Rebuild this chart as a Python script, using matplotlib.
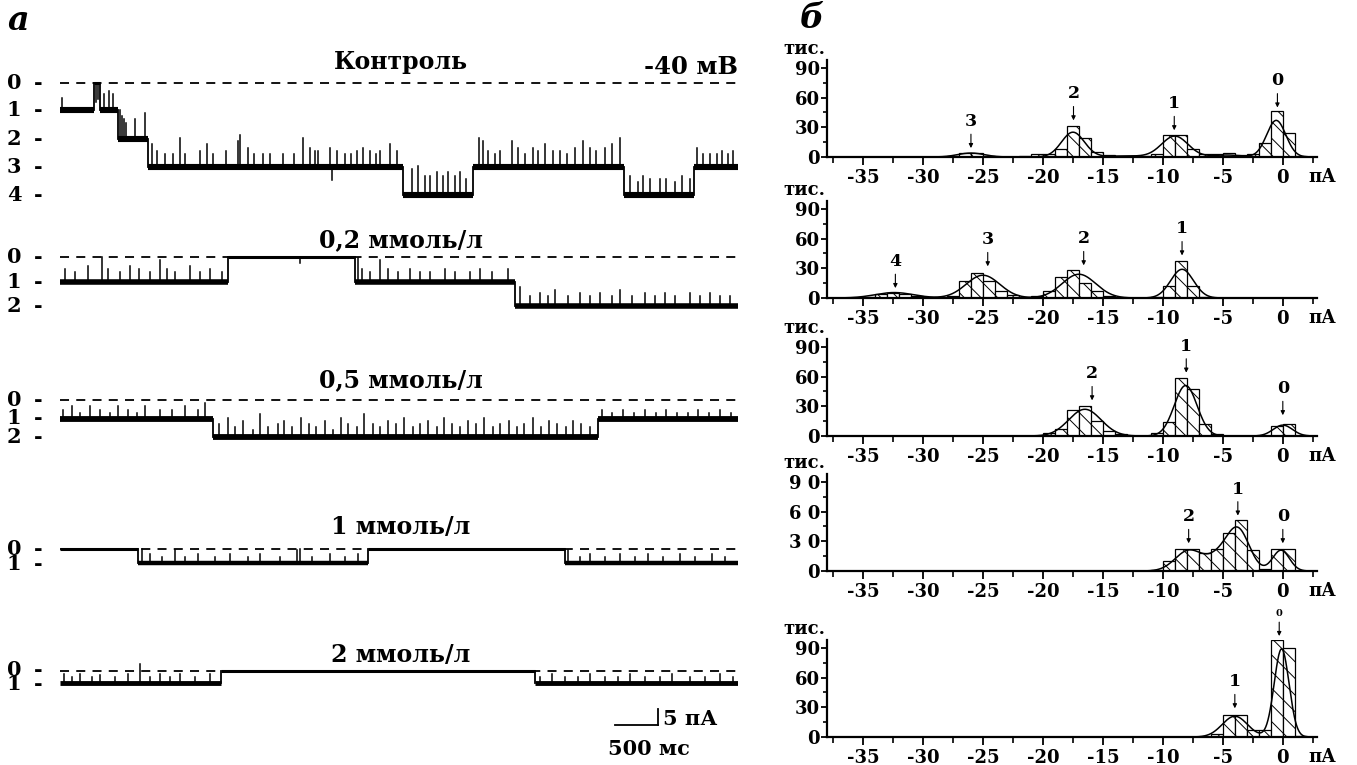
# -*- coding: utf-8 -*-
"""Одиночные каналы: записи тока (а) и амплитудные гистограммы (б)."""

import matplotlib
matplotlib.use("Agg")
import matplotlib.pyplot as plt
import numpy as np
from matplotlib import transforms
from matplotlib.ticker import MultipleLocator

W, H = 1357, 765
plt.rcParams["font.family"] = ["DejaVu Serif"]
plt.rcParams["font.weight"] = "bold"
plt.rcParams["axes.unicode_minus"] = False
plt.rcParams["hatch.linewidth"] = 0.7

# ---------- а: записи тока (время, мс; ток, пА) ----------
T_END = 7885

ctrl_levels = [0, -8.6, -17.4, -26.2, -35.0]
ctrl_segments = [(0, 390, 1), (390, 470, 0), (470, 680, 1), (680, 1020, 2),
                 (1020, 3990, 3), (3990, 4800, 4), (4800, 6560, 3),
                 (6560, 7370, 4), (7370, T_END, 3)]
ctrl_spike_t = [23, 420, 445, 512, 570, 616, 698, 720, 744, 770, 872, 989,
                1070, 1128, 1221, 1314, 1396, 1454, 1628, 1710, 1779, 1931,
                2070, 2093, 2186, 2256, 2361, 2442, 2593, 2721, 2826, 2908,
                2966, 3000, 3140, 3163, 3222, 3315, 3384, 3454, 3524, 3605,
                3675, 3722, 3838, 3919,
                4094, 4164, 4245, 4303, 4385, 4454, 4512, 4594, 4652, 4722,
                4873, 4919, 4978, 5059, 5117, 5257, 5327, 5408, 5501, 5559,
                5640, 5733, 5815, 5896, 5989, 6082, 6164, 6234, 6338, 6420,
                6513, 6629, 6722, 6780, 6862, 6978, 7048, 7152, 7234, 7327,
                7408, 7478, 7560, 7641, 7699, 7769, 7827]
ctrl_spike_h = [4, -6, -5, 5, 6, 5, 9, 7, 6, 5, 6, 8,
                7, 5, 4, 4, 9, 4, 5, 7, 4, 5,
                8, 10, 6, 4, 4, 4, 4, 4, 9, 6,
                5, 5, 6, -4, 5, 4, 4, 5, 6, 5,
                4, 5, 7, 5,
                8, 9, 6, 6, 7, 6, 7, 6, 7, 5,
                9, 8, 5, 4, 5, 8, 6, 4, 6, 5,
                7, 5, 5, 4, 6, 8, 6, 5, 6, 7,
                9, 6, 4, 6, 5, 5, 5, 4, 6, 5,
                6, 4, 4, 4, 5, 4, 5]

c02_levels = [0, -7.8, -15.3]
c02_segments = [(0, 1954, 1), (1954, 3431, 0), (3431, 5292, 1), (5292, T_END, 2)]
c02_spike_t = [58, 174, 326, 488, 558, 698, 814, 919, 1047, 1163, 1244, 1337,
               1512, 1628, 1745, 1884, 2791,
               3466, 3512, 3605, 3722, 3815, 3931, 4071, 4187, 4303, 4478,
               4594, 4768, 4885, 5024, 5210,
               5350, 5466, 5582, 5675, 5757, 5908, 6048, 6164, 6280, 6420,
               6513, 6652, 6804, 6920, 7036, 7152, 7327, 7443, 7560, 7676, 7792]
c02_spike_h = [4, 3, 5, 7.8, 4, 3, 5, 4, 3, 7, 4, 3,
               5, 3, 4, 3, -2,
               7.5, 4, 3, 7, 4, 3, 4, 3, 3, 4,
               3, 3, 4, 3, 4,
               6, 3, 4, 3, 5, 3, 4, 3, 4, 3,
               5, 3, 4, 3, 4, 3, 4, 3, 4, 3, 3]

c05_levels = [0, -6.0, -11.5]
c05_segments = [(0, 1780, 1), (1780, 6257, 2), (6257, T_END, 1)]
c05_spike_t = [35, 140, 233, 349, 465, 582, 675, 791, 896, 989, 1163, 1303,
               1454, 1605, 1687,
               1850, 1950, 2040, 2130, 2250, 2330, 2420, 2530, 2610, 2700,
               2800, 2900, 2980, 3080, 3170, 3270, 3350, 3450, 3540, 3640,
               3720, 3820, 3910, 4000, 4100, 4190, 4280, 4380, 4470, 4560,
               4650, 4750, 4840, 4930, 5030, 5120, 5220, 5310, 5400, 5500,
               5590, 5690, 5780, 5880, 5970, 6060, 6160,
               6300, 6420, 6550, 6680, 6800, 6930, 7050, 7180, 7300, 7420,
               7550, 7680, 7800]
c05_spike_h = [3, 4, 2, 4, 3, 2, 4, 3, 2, 4, 3, 3,
               4, 3, 5,
               4, 6, 3, 5, 2, 7, 3, 4, 5, 3,
               6, 4, 3, 5, 2, 6, 4, 3, 7, 4,
               3, 5, 4, 6, 3, 4, 5, 3, 6, 4,
               3, 5, 4, 6, 3, 4, 5, 3, 4, 6,
               3, 5, 4, 3, 5, 4, 3,
               3, 2, 3, 2, 3, 2, 3, 2, 2, 3,
               2, 3, 2]

c1_levels = [0, -4.4]
c1_segments = [(0, 907, 0), (907, 3582, 1), (3582, 5873, 0), (5873, T_END, 1)]
c1_spike_t = [954, 1047, 1186, 1337, 1454, 1605, 1803, 1977, 2186, 2326, 2559,
              2756, 2791, 2931, 3140, 3315, 3466,
              5908, 6048, 6164, 6338, 6513, 6687, 6838, 7013, 7211, 7385,
              7583, 7734]
c1_spike_h = [4.4, 3, 2, 4, 2, 3, 2, 3, 2, 3, 2,
              4, 4.4, 2, 3, 2, 3,
              4, 2, 3, 2, 3, 2, 3, 2, 3, 2,
              3, 2]

c2_levels = [0, -3.8]
c2_segments = [(0, 1872, 1), (1872, 5524, 0), (5524, T_END, 1)]
c2_spike_t = [47, 140, 233, 372, 465, 640, 791, 930, 1047, 1163, 1279, 1396,
              1570, 1745,
              5582, 5722, 5873, 6024, 6164, 6338, 6489, 6629, 6804, 6978,
              7118, 7327, 7501, 7676, 7827]
c2_spike_h = [3, 2, 3, 2, 2.5, 2, 3, 6, 2, 3, 2, 3,
              2, 3,
              2, 3, 2, 2, 3, 2, 2, 3, 2, 2,
              3, 2, 2, 3, 2]

trace_titles = ["Контроль", "0,2 ммоль/л", "0,5 ммоль/л", "1 ммоль/л", "2 ммоль/л"]

# ---------- б: амплитудные гистограммы (левый край бина, пА; тыс.) ----------
p1_bins = [-28, -27, -26, -25, -22, -21, -20, -19, -18, -17, -16, -15, -14,
           -13, -12, -11, -10, -9, -8, -7, -6, -5, -4, -3, -2, -1, 0, 1]
p1_counts = [1, 4, 4, 1, 1, 3, 3, 8, 31, 19, 5, 2, 1,
             1, 1, 3, 22, 22, 8, 3, 3, 4, 2, 3, 14, 46, 24, 1]
p1_fit = [(-26.0, 4, 1.1), (-17.5, 25, 0.95), (-13.0, 1, 2.0),
          (-9.0, 21, 1.1), (-4.7, 2, 1.2), (-0.55, 37, 0.8)]
p1_marks = [("3", -26.0, 9), ("2", -17.45, 37), ("1", -9.05, 27), ("0", -0.45, 50)]

p2_bins = [-35, -34, -33, -32, -31, -28, -27, -26, -25, -24, -23, -21, -20,
           -19, -18, -17, -16, -15, -11, -10, -9, -8, -7]
p2_counts = [1, 4, 5, 4, 2, 2, 17, 25, 17, 7, 3, 2, 7,
             21, 28, 15, 7, 2, 1, 12, 37, 12, 1]
p2_fit = [(-32.4, 5.5, 1.6), (-25.0, 23, 1.4), (-17.0, 24, 1.4), (-8.4, 29, 0.95)]
p2_marks = [("4", -32.3, 10), ("3", -24.6, 32), ("2", -16.6, 33), ("1", -8.4, 43)]

p3_bins = [-20, -19, -18, -17, -16, -15, -14, -11, -10, -9, -8, -7, -6, -1, 0]
p3_counts = [3, 7, 26, 30, 15, 5, 2, 3, 14, 59, 47, 12, 2, 10, 12]
p3_fit = [(-16.5, 27, 1.35), (-8.1, 51, 0.95), (0.0, 11, 0.8)]
p3_marks = [("2", -15.9, 36), ("1", -8.05, 64), ("0", 0.0, 21)]

p4_bins = [-11, -10, -9, -8, -7, -6, -5, -4, -3, -2, -1, 0]
p4_counts = [1, 10, 22, 22, 18, 22, 38, 52, 21, 2, 22, 22]
p4_fit = [(-7.8, 21, 1.15), (-5.4, 12, 0.9), (-3.75, 42, 0.95), (-0.15, 21, 0.7)]
p4_marks = [("2", -7.85, 28), ("1", -3.75, 56), ("0", 0.0, 28)]

p5_bins = [-6, -5, -4, -3, -2, -1, 0, 1]
p5_counts = [3, 22, 22, 7, 7, 98, 90, 1]
p5_fit = [(-4.0, 21, 1.05), (-0.1, 89, 0.62)]
p5_marks = [("1", -4.0, 29), ("0", -0.3, 102)]

y_ticks = [0, 30, 60, 90]


def fig_text(fig, x, y, s, **kw):
    """Текст в пиксельных координатах рисунка (ось y вниз)."""
    return fig.text(x / W, 1 - y / H, s, **kw)


def px_axes(fig, left, top, right, bottom):
    return fig.add_axes([left / W, 1 - bottom / H, (right - left) / W, (bottom - top) / H])


def level_at(segments, t):
    for t0, t1, lvl in segments:
        if t0 <= t < t1:
            return lvl
    return segments[-1][2]


def draw_trace(ax, base, levels, segments, spike_t, spike_h, lw):
    prev = None
    for t0, t1, lvl in segments:
        y = base + levels[lvl]
        ax.plot([t0, t1], [y, y], color="black", lw=(2.2 if lvl == 0 else lw),
                solid_capstyle="butt", zorder=3)
        if prev is not None:
            ax.plot([t0, t0], [base + levels[prev], y], color="black", lw=1.3, zorder=3)
        prev = lvl
    for t, h in zip(spike_t, spike_h):
        y = base + levels[level_at(segments, t)]
        ax.plot([t, t], [y, y + h], color="black", lw=1.1, zorder=3)


def level_labels(ax, tr, base, levels):
    """Подписи уровней 0, 1, 2... слева от записи."""
    gap_px = abs(levels[1] - levels[0]) * 3.2
    if gap_px < 20:
        # уровни почти сливаются: одна двухстрочная подпись, как в оригинале
        mid = base + (levels[0] + levels[-1]) / 2
        ls = gap_px / (15 * 100 / 72)
        digits = "\n".join(str(i) for i in range(len(levels)))
        dashes = "\n".join("-" for _ in levels)
        ax.text(14 / W, mid, digits, transform=tr, ha="center", va="center",
                fontsize=15, linespacing=ls)
        ax.text(38 / W, mid, dashes, transform=tr, ha="center", va="center",
                fontsize=15, linespacing=ls)
        return
    for i, lv in enumerate(levels):
        ax.text(14 / W, base + lv, str(i), transform=tr, ha="center",
                va="center", fontsize=15)
        ax.text(38 / W, base + lv, "-", transform=tr, ha="center",
                va="center", fontsize=15)


def hist_panel(fig, bottom, bins, counts, fit, marks, ytick_labels, small_zero=False):
    ax = px_axes(fig, 827, bottom - 97, 1317, bottom)
    ax.bar(bins, counts, width=1.0, align="edge", color="white", edgecolor="black",
           hatch="\\\\", linewidth=0.9, zorder=2)
    xs = np.linspace(-38, 2.5, 900)
    ys = np.zeros_like(xs)
    for mu, amp, sig in fit:
        ys += amp * np.exp(-(xs - mu) ** 2 / (2 * sig ** 2))
    ax.plot(xs, ys, color="black", lw=1.1, zorder=3)
    ax.set_xlim(-38, 2.85)
    ax.set_ylim(0, 98)
    for side in ("top", "right"):
        ax.spines[side].set_visible(False)
    for side in ("left", "bottom"):
        ax.spines[side].set_linewidth(1.6)
    ax.xaxis.set_major_locator(MultipleLocator(5))
    ax.xaxis.set_minor_locator(MultipleLocator(2.5))
    ax.set_xticks(range(-35, 1, 5))
    ax.set_yticks(y_ticks)
    ax.set_yticklabels(ytick_labels)
    ax.yaxis.set_minor_locator(MultipleLocator(15))
    ax.tick_params(axis="x", which="major", direction="out", length=6, width=1.3,
                   labelsize=13, pad=2.5)
    ax.tick_params(axis="x", which="minor", direction="out", length=4, width=1.2)
    ax.tick_params(axis="y", which="major", direction="out", length=4, width=1.3,
                   labelsize=13, pad=1)
    ax.tick_params(axis="y", which="minor", direction="out", length=3, width=1.2)
    ax.patch.set_alpha(0)
    for lbl, x, tip in marks:
        fs = 7 if (small_zero and lbl == "0") else 12.5
        ax.annotate(lbl, xy=(x, tip), xytext=(0, 13), textcoords="offset points",
                    ha="center", va="bottom", fontsize=fs, fontweight="bold",
                    annotation_clip=False,
                    arrowprops=dict(arrowstyle="-|>", color="black", lw=0.8,
                                    mutation_scale=6, shrinkA=1, shrinkB=0))
    fig_text(fig, 783, bottom - 108, "тис.", fontsize=13, ha="left", va="center")
    fig_text(fig, 1322, bottom + 20, "пА", fontsize=13, ha="center", va="center")
    return ax


def main():
    fig = plt.figure(figsize=(W / 100, H / 100), dpi=100)

    # ---- а: записи ----
    ax = px_axes(fig, 60, 40, 738, 765)
    ax.set_xlim(0, T_END)
    ax.set_ylim(-725 / 3.2, 0)
    ax.axis("off")

    bases = [-13.4, -67.8, -112.5, -159.1, -197.2]
    traces = [
        (ctrl_levels, ctrl_segments, ctrl_spike_t, ctrl_spike_h, 4.4),
        (c02_levels, c02_segments, c02_spike_t, c02_spike_h, 4.0),
        (c05_levels, c05_segments, c05_spike_t, c05_spike_h, 4.2),
        (c1_levels, c1_segments, c1_spike_t, c1_spike_h, 3.2),
        (c2_levels, c2_segments, c2_spike_t, c2_spike_h, 3.5),
    ]
    title_y = [62, 240, 380, 527, 655]
    label_tr = transforms.blended_transform_factory(fig.transFigure, ax.transData)
    for base, (levels, segs, st, sh, lw), title, ty in zip(bases, traces, trace_titles, title_y):
        ax.plot([0, T_END], [base, base], color="black", lw=1.3,
                linestyle=(0, (5, 4)), zorder=2)
        draw_trace(ax, base, levels, segs, st, sh, lw)
        level_labels(ax, label_tr, base, levels)
        fig_text(fig, 401, ty, title, fontsize=17, ha="center", va="center")
    fig_text(fig, 738, 67, "-40 мВ", fontsize=17.5, ha="right", va="center")

    # масштаб: 500 мс, 5 пА
    sb_y = -(725 - 40) / 3.2
    sb_t = 6955
    ax.plot([sb_t - 500, sb_t], [sb_y, sb_y], color="black", lw=1.3)
    ax.plot([sb_t, sb_t], [sb_y, sb_y + 5], color="black", lw=1.3)
    fig_text(fig, 663, 719, "5 пА", fontsize=15, ha="left", va="center")
    fig_text(fig, 649, 749, "500 мс", fontsize=15, ha="center", va="center")

    # ---- б: гистограммы ----
    plain = [str(v) for v in y_ticks]
    spaced = ["0", "3 0", "6 0", "9 0"]
    hist_panel(fig, 157, p1_bins, p1_counts, p1_fit, p1_marks, plain)
    hist_panel(fig, 298, p2_bins, p2_counts, p2_fit, p2_marks, plain)
    hist_panel(fig, 436, p3_bins, p3_counts, p3_fit, p3_marks, plain)
    hist_panel(fig, 571, p4_bins, p4_counts, p4_fit, p4_marks, spaced)
    hist_panel(fig, 737, p5_bins, p5_counts, p5_fit, p5_marks, plain, small_zero=True)

    fig_text(fig, 18, 20, "а", fontsize=24, style="italic", ha="center", va="center")
    fig_text(fig, 812, 18, "б", fontsize=24, style="italic", ha="center", va="center")

    fig.savefig("out.png", dpi=100)
    plt.close(fig)


if __name__ == "__main__":
    main()
